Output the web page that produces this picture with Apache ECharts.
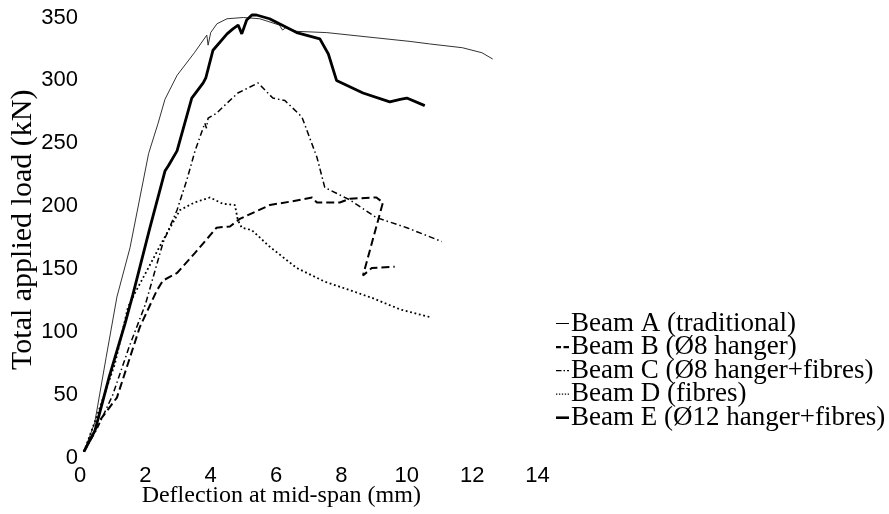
<!DOCTYPE html>
<html>
<head>
<meta charset="utf-8">
<script src="https://cdn.jsdelivr.net/npm/echarts@6/dist/echarts.min.js"></script>
<style>
html,body{margin:0;padding:0;background:#fff;}
#chart{width:889px;height:514px;}
</style>
</head>
<body>
<div id="chart"></div>
<script>
// Deflection (mm), load (kN) pairs
const beamA = [[0.12,5],[0.45,28],[0.8,80],[1.13,128],[1.53,167],[2.1,242],[2.39,266],[2.6,285],[2.97,304],[3.5,322],[3.88,336],[3.92,328],[4.0,338],[4.19,345],[4.5,349],[5.0,350],[5.5,349],[6.1,344],[6.2,340],[6.3,342],[6.63,339],[7.55,338],[9.0,334],[10.1,331],[10.7,329],[11.7,326],[12.3,322],[12.63,317]];
const beamB = [[0.12,5],[0.61,30],[1.13,48],[1.53,80],[1.83,104],[2.35,133],[2.54,141],[2.97,147],[3.52,163],[4.18,183],[4.59,184],[4.89,190],[5.81,201],[6.5,204],[7.1,207],[7.25,203],[7.95,203],[8.26,206],[9.07,207],[9.27,203],[8.66,145],[8.93,151],[9.63,152]];
const beamC = [[0.12,5],[0.5,22],[1.0,50],[1.5,88],[2.0,122],[2.54,171],[2.97,197],[3.27,221],[3.52,244],[3.82,266],[3.87,262],[3.92,270],[4.18,274],[4.5,282],[4.83,290],[5.45,298],[5.9,286],[6.27,284],[6.79,271],[7.25,239],[7.49,215],[8.26,205],[9.07,191],[10.0,183],[11.07,172]];
const beamD = [[0.12,5],[0.5,32],[1.07,75],[1.47,120],[1.68,131],[2.05,149],[2.54,173],[3.06,197],[3.5,203],[3.98,207],[4.37,202],[4.74,201],[4.83,189],[4.95,183],[5.26,181],[5.8,168],[6.63,151],[7.5,140],[8.3,133],[8.96,127],[9.8,118],[10.7,112]];
const beamE = [[0.12,5],[0.46,22],[0.9,65],[1.38,107],[1.62,130],[2.14,183],[2.6,228],[2.7,232],[2.97,244],[3.42,286],[3.77,298],[3.85,302],[4.07,324],[4.5,337],[4.68,341],[4.84,344],[4.95,337],[5.1,348],[5.26,352],[5.4,352],[5.8,349],[6.63,338],[7.34,333],[7.6,321],[7.85,300],[8.66,290],[9.48,283],[9.8,285],[10.0,286],[10.55,280]];

const seriesNames = ['Beam A (traditional)','Beam B (\u00d88 hanger)','Beam C (\u00d88 hanger+fibres)','Beam D (fibres)','Beam E (\u00d812 hanger+fibres)'];
const xTicks = {min:0, max:14, interval:2};
const yTicks = {min:0, max:350, interval:50};

const chart = echarts.init(document.getElementById('chart'), null, {renderer:'canvas'});
const serif = 'Liberation Serif';
const sans = 'Liberation Sans';

// legend glyphs imitating the line styles
const legendIcons = [
  'path://M0,0h13v1h-13z',
  'path://M0,0h5v2.2h-5zM7.5,0h5.5v2.2h-5.5z',
  'path://M0,0h5.5v1.2h-5.5zM7.5,0h1.5v1.2h-1.5zM11,0h2v1.2h-2z',
  'path://M0,0h1.3v1.3h-1.3zM2.9,0h1.3v1.3h-1.3zM5.8,0h1.3v1.3h-1.3zM8.7,0h1.3v1.3h-1.3zM11.6,0h1.3v1.3h-1.3z',
  'path://M0,0h13v2.6h-13z'
];

function mk(name, data, ls){
  return {name:name, type:'line', data:data, symbol:'none', showSymbol:false, smooth:false,
    clip:false, lineStyle:Object.assign({color:'#000'}, ls), itemStyle:{color:'#000'}, animation:false};
}

chart.setOption({
  backgroundColor:'#fff',
  animation:false,
  grid:{left:80, right:351.5, top:17.5, bottom:56, containLabel:false, outerBoundsMode:'none'},
  xAxis:{type:'value', min:xTicks.min, max:xTicks.max, interval:xTicks.interval,
    axisLine:{show:false}, axisTick:{show:false}, splitLine:{show:false},
    axisLabel:{color:'#000', fontFamily:sans, fontSize:22, margin:7},
    name:'Deflection at mid-span (mm)', nameLocation:'middle', nameGap:26, nameMoveOverlap:false,
    nameTextStyle:{color:'#000', fontFamily:serif, fontSize:24, padding:[0,55,0,0]}},
  yAxis:{type:'value', min:yTicks.min, max:yTicks.max, interval:yTicks.interval,
    axisLine:{show:false}, axisTick:{show:false}, splitLine:{show:false},
    axisLabel:{color:'#000', fontFamily:sans, fontSize:22, margin:2},
    name:'Total applied load (kN)', nameLocation:'middle', nameGap:42, nameRotate:90, nameMoveOverlap:false,
    nameTextStyle:{color:'#000', fontFamily:serif, fontSize:30, padding:[0,0,0,16]}},
  legend:{orient:'vertical', left:556, top:310, padding:0, itemWidth:13, itemHeight:14, itemGap:-3.45,
    data:seriesNames.map((n,i)=>({name:n, icon:legendIcons[i]})), selectedMode:false,
    itemStyle:{borderWidth:0},
    textStyle:{color:'#000', fontFamily:serif, fontSize:27, padding:[0,0,0,-3]}},
  series:[
    mk(seriesNames[0], beamA, {width:1, color:'#333'}),
    mk(seriesNames[1], beamB, {width:2, type:[8,4]}),
    mk(seriesNames[2], beamC, {width:1.5, type:[6,3,1.5,3]}),
    mk(seriesNames[3], beamD, {width:1.8, type:[1.8,2.7]}),
    mk(seriesNames[4], beamE, {width:2.8})
  ]
});
</script>
</body>
</html>
